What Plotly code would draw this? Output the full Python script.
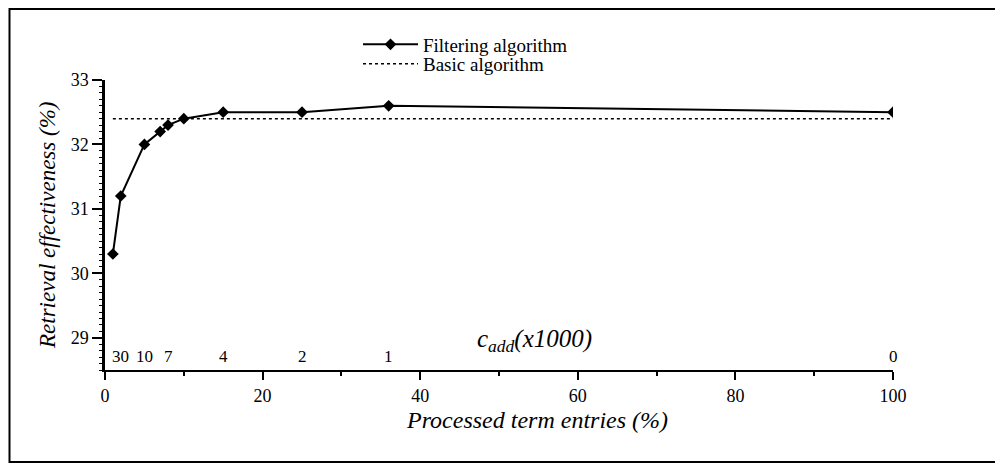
import plotly.graph_objects as go

# Data
processed = [1, 2, 5, 7, 8, 10, 15, 25, 36, 100]          # Processed term entries (%)
filtering = [30.3, 31.2, 32.0, 32.2, 32.3, 32.4, 32.5, 32.5, 32.6, 32.5]  # Retrieval effectiveness (%)
basic_x = [1, 100]
basic_y = [32.4, 32.4]
cadd_x = [2, 5, 8, 15, 25, 36, 100]
cadd_labels = ["30", "10", "7", "4", "2", "1", "0"]

FONT = "Liberation Serif"

# page is rendered with an 8px body margin -> figure is 8px smaller
W, H = 995, 456
L, R, T, B = 97, 110, 72, 94
PW, PH = W - L - R, H - T - B


def px(xpage):
    return (xpage - 8 - L) / PW


def py(ypage):
    return (H - B - (ypage - 8)) / PH


fig = go.Figure()
fig.add_trace(go.Scatter(
    x=processed, y=filtering, mode="lines+markers", name="Filtering algorithm",
    line=dict(color="black", width=2),
    marker=dict(symbol="diamond", size=9, color="black"),
    legend="legend",
))
fig.add_trace(go.Scatter(
    x=basic_x, y=basic_y, mode="lines", name="Basic algorithm",
    line=dict(color="black", width=1.5, dash="dot"),
    legend="legend2",
))

for xv, lab in zip(cadd_x, cadd_labels):
    fig.add_annotation(x=xv, y=28.71, xref="x", yref="y", text=lab, showarrow=False,
                       xanchor="center", yanchor="middle",
                       font=dict(family=FONT, size=17, color="black"))

fig.add_annotation(x=px(534), y=py(340), xref="paper", yref="paper",
                   xanchor="center", yanchor="middle",
                   text="<i>c<sub>add</sub>(x1000)</i>", showarrow=False,
                   font=dict(family=FONT, size=25, color="black"))

fig.add_annotation(x=px(47), y=py(225), xref="paper", yref="paper",
                   xanchor="center", yanchor="middle",
                   text="<i>Retrieval effectiveness (%)</i>", showarrow=False, textangle=-90,
                   font=dict(family=FONT, size=23, color="black"))
fig.add_annotation(x=px(537), y=py(420), xref="paper", yref="paper",
                   xanchor="center", yanchor="middle",
                   text="<i>Processed term entries (%)</i>", showarrow=False,
                   font=dict(family=FONT, size=24, color="black"))

# outer frame
fig.add_shape(type="rect", xref="paper", yref="paper",
              x0=px(9.5), x1=px(1020),
              y0=py(462), y1=py(9),
              line=dict(color="black", width=2))

leg_common = dict(xanchor="left", yanchor="middle", bgcolor="rgba(0,0,0,0)",
                  font=dict(family=FONT, size=19, color="black"), itemwidth=55)

fig.update_layout(
    width=W, height=H,
    margin=dict(l=L, r=R, t=T, b=B),
    paper_bgcolor="white", plot_bgcolor="white",
    font=dict(family=FONT, size=17, color="black"),
    showlegend=True,
    legend=dict(x=px(358), y=py(44.5), **leg_common),
    legend2=dict(x=px(358), y=py(64), **leg_common),
    xaxis=dict(range=[0, 100], showline=True, linecolor="black", linewidth=2,
               showgrid=False, zeroline=False, ticks="outside", ticklen=8, tickwidth=1.5,
               tickcolor="black", tickvals=[0, 20, 40, 60, 80, 100],
               tickfont=dict(family=FONT, size=18),
               minor=dict(tickvals=[10, 30, 50, 70, 90], ticks="outside", ticklen=4,
                          tickcolor="black", tickwidth=1.5, showgrid=False)),
    yaxis=dict(range=[28.5, 33], showline=True, linecolor="black", linewidth=2.5,
               showgrid=False, zeroline=False, ticks="outside", ticklen=10, tickwidth=1.5,
               tickcolor="black", tickvals=[29, 30, 31, 32, 33],
               tickfont=dict(family=FONT, size=18),
               minor=dict(dtick=0.1, ticks="outside", ticklen=3, tickcolor="black",
                          tickwidth=1, showgrid=False)),
)

fig.write_html("out.html")
